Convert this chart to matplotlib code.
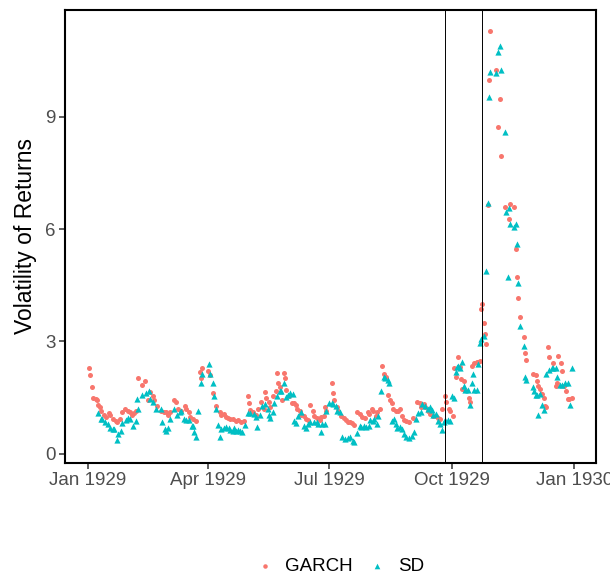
import numpy as np
import pandas as pd
import matplotlib
matplotlib.use("Agg")
import matplotlib.pyplot as plt
import matplotlib.dates as mdates

plt.rcParams['font.family'] = ['Liberation Sans', 'DejaVu Sans']

# day offsets from 1929-01-01 and volatility
garch_day = [1, 2, 3, 4, 6, 7, 8, 9, 10, 12, 14, 16, 17, 19, 21, 22, 24, 26, 28, 30,
             32, 33, 35, 36, 38, 41, 43, 45, 47, 49, 50, 52, 55, 57, 59, 60, 62, 65, 66, 68,
             70, 73, 74, 76, 77, 79, 81, 84, 85, 86, 90, 92, 94, 96, 99, 100, 102, 104, 105, 107,
             109, 111, 113, 115, 117, 120, 121, 122, 124, 126, 128, 130, 132, 133, 134, 136, 137, 139, 141, 142,
             143, 144, 146, 147, 148, 149, 151, 153, 155, 156, 157, 159, 160, 162, 164, 165, 167, 169, 170, 172,
             174, 175, 177, 178, 179, 183, 184, 185, 187, 188, 190, 192, 194, 195, 197, 198, 200, 202, 204, 206,
             208, 210, 211, 213, 214, 216, 217, 219, 221, 222, 224, 225, 227, 228, 229, 231, 233, 234, 236, 237,
             239, 241, 244, 247, 249, 250, 252, 253, 255, 257, 259, 261, 263, 264, 266, 268, 269, 271, 272, 274,
             275, 276, 278, 279, 280, 281, 282, 283, 286, 287, 288, 290, 292, 293, 294, 295, 296, 297, 298, 299,
             300, 301, 302, 306, 308, 309, 310, 313, 316, 317, 320, 321, 322, 323, 324, 327, 328, 329, 334, 336,
             337, 338, 339, 340, 341, 342, 343, 344, 345, 346, 349, 351, 352, 353, 355, 356, 357, 359, 360, 361,
             363]
garch_vol = [2.28, 2.09, 1.77, 1.50, 1.46, 1.42, 1.31, 1.25, 1.15, 1.04, 0.99, 1.08, 1.04, 0.93, 0.88, 0.84, 0.93, 1.10, 1.19, 1.15,
             1.10, 1.02, 1.08, 1.15, 2.02, 1.83, 1.95, 1.42, 1.64, 1.55, 1.42, 1.28, 1.15, 1.10, 1.10, 1.04, 1.10, 1.43, 1.38, 1.19,
             1.15, 1.28, 1.19, 1.10, 0.97, 0.93, 0.88, 2.17, 2.02, 2.30, 2.22, 2.11, 1.61, 1.28, 1.10, 1.03, 1.06, 0.99, 0.95, 0.93,
             0.93, 0.86, 0.90, 0.84, 0.86, 1.55, 1.34, 1.17, 1.10, 1.04, 1.19, 1.37, 1.19, 1.66, 1.49, 1.37, 1.24, 1.55, 1.68, 2.15,
             1.90, 1.77, 1.43, 2.15, 2.02, 1.70, 1.55, 1.34, 1.34, 1.31, 1.19, 1.13, 1.04, 1.01, 0.93, 0.90, 1.31, 1.15, 1.01, 0.95,
             0.90, 0.97, 1.01, 1.25, 1.13, 1.89, 1.61, 1.43, 1.25, 1.13, 1.01, 0.95, 0.90, 0.84, 0.84, 0.81, 0.77, 1.10, 1.06, 0.99,
             0.95, 1.10, 1.06, 1.19, 1.13, 1.01, 1.10, 1.19, 2.35, 2.14, 2.04, 1.58, 1.42, 1.34, 1.19, 1.15, 1.13, 1.19, 1.01, 0.90,
             0.88, 0.84, 0.95, 1.37, 1.34, 1.24, 1.33, 1.24, 1.15, 1.06, 1.01, 1.01, 0.95, 0.93, 1.19, 1.55, 1.37, 1.19, 1.13, 1.01,
             2.29, 2.04, 2.57, 2.32, 1.99, 1.73, 1.95, 1.70, 1.50, 1.37, 2.35, 2.41, 2.44, 2.46, 2.48, 3.86, 4.01, 3.50, 3.20, 2.93,
             6.64, 10.00, 11.31, 10.25, 8.73, 9.49, 7.96, 6.60, 6.28, 6.67, 6.60, 5.48, 4.73, 4.17, 3.64, 3.11, 2.68, 2.50, 2.14, 2.11,
             1.95, 1.82, 1.73, 1.59, 1.59, 1.50, 1.28, 1.25, 2.86, 2.57, 2.41, 1.82, 1.88, 2.62, 2.41, 2.22, 1.82, 1.68, 1.46, 1.46,
             1.50]

sd_day = [8, 10, 11, 13, 15, 17, 19, 20, 22, 23, 25, 26, 29, 30, 32, 34, 36, 37, 38, 41,
          44, 46, 47, 49, 51, 55, 56, 58, 59, 60, 62, 65, 67, 69, 70, 72, 74, 76, 78, 79,
          80, 81, 83, 85, 86, 91, 92, 94, 95, 96, 98, 99, 100, 102, 104, 106, 107, 109, 110, 111,
          113, 114, 116, 118, 120, 122, 125, 126, 127, 129, 131, 133, 135, 136, 137, 139, 140, 142, 144, 145,
          147, 149, 150, 152, 154, 155, 156, 158, 160, 162, 164, 165, 167, 170, 172, 173, 175, 176, 178, 179,
          181, 183, 184, 186, 187, 189, 191, 193, 195, 197, 199, 200, 202, 204, 205, 207, 209, 211, 212, 214,
          215, 217, 218, 220, 222, 223, 225, 226, 228, 230, 231, 232, 234, 236, 237, 239, 241, 243, 245, 246,
          248, 250, 251, 253, 255, 257, 258, 259, 261, 263, 264, 266, 267, 268, 270, 272, 273, 275, 276, 277,
          278, 279, 281, 282, 283, 285, 287, 288, 289, 290, 292, 293, 294, 295, 297, 299, 300, 301, 302, 306,
          308, 309, 310, 313, 314, 315, 316, 317, 320, 321, 322, 323, 324, 327, 328, 329, 334, 335, 336, 337,
          338, 339, 341, 342, 344, 346, 348, 349, 351, 352, 354, 356, 358, 360, 362, 363]
sd_vol = [1.08, 0.93, 0.93, 0.84, 0.80, 0.69, 0.66, 0.66, 0.37, 0.53, 0.61, 0.82, 0.90, 0.95, 0.93, 0.75, 0.88, 1.46, 1.19, 1.58,
          1.61, 1.68, 1.46, 1.37, 1.19, 1.19, 0.84, 0.66, 0.61, 0.69, 0.92, 1.19, 1.04, 1.10, 1.13, 0.93, 0.90, 0.90, 0.75, 0.75,
          0.57, 0.44, 1.15, 1.90, 2.14, 2.39, 2.14, 1.89, 1.55, 1.19, 0.77, 0.45, 0.66, 0.69, 0.72, 0.69, 0.63, 0.60, 0.69, 0.61,
          0.63, 0.60, 0.57, 0.77, 1.08, 1.08, 1.06, 0.97, 0.72, 1.04, 1.28, 1.33, 1.19, 1.04, 0.95, 1.10, 1.34, 1.55, 1.68, 1.68,
          1.90, 1.52, 1.58, 1.61, 1.59, 0.86, 0.81, 1.01, 1.10, 0.75, 0.69, 0.79, 0.84, 0.84, 0.84, 0.79, 0.57, 0.79, 0.79, 1.15,
          1.34, 1.34, 1.33, 1.28, 1.15, 1.10, 0.44, 0.39, 0.42, 0.44, 0.35, 0.30, 0.54, 0.75, 0.72, 0.75, 0.72, 0.75, 0.90, 0.86,
          0.93, 0.79, 1.01, 1.68, 2.04, 2.02, 1.97, 1.90, 0.88, 0.93, 0.79, 0.69, 0.72, 0.66, 0.53, 0.44, 0.42, 0.48, 0.57, 0.93,
          1.08, 1.10, 1.33, 1.28, 1.19, 1.24, 1.17, 1.04, 1.06, 0.88, 0.79, 0.63, 0.84, 0.90, 0.90, 0.88, 1.55, 1.49, 2.17, 2.32,
          2.35, 2.30, 2.46, 1.82, 1.70, 1.70, 1.31, 1.90, 2.13, 1.70, 1.70, 2.39, 2.97, 3.06, 3.15, 4.87, 6.71, 9.53, 10.21, 10.18,
          10.73, 10.91, 10.25, 8.60, 6.46, 4.73, 6.56, 6.15, 6.06, 6.13, 5.60, 4.57, 3.42, 2.88, 2.06, 1.97, 1.79, 1.68, 1.58, 1.58,
          1.04, 1.59, 1.31, 1.17, 2.14, 2.23, 2.29, 2.29, 2.29, 2.06, 1.84, 1.84, 1.90, 1.88, 1.31, 2.29]

event_dates = ['1929-09-26', '1929-10-24']
tick_dates = ['1929-01-01', '1929-04-01', '1929-07-01', '1929-10-01', '1930-01-01']

start = pd.Timestamp('1929-01-01')
garch_dates = start + pd.to_timedelta(garch_day, unit='D')
sd_dates = start + pd.to_timedelta(sd_day, unit='D')

fig = plt.figure(figsize=(6.1, 5.78), dpi=100)
ax = fig.add_axes([0.1066, 0.199, 0.870, 0.7837])

ax.scatter(garch_dates, garch_vol, s=13, marker='o', color='#F8766D', linewidths=0, label='GARCH', zorder=2)
ax.scatter(sd_dates, sd_vol, s=20, marker='^', color='#00BFC4', linewidths=0, label='SD', zorder=3)

for d in event_dates:
    ax.axvline(pd.Timestamp(d), color='black', linewidth=0.7, zorder=4)

ax.margins(x=0.05, y=0.05)
ax.set_yticks([0, 3, 6, 9])
ax.set_xticks([pd.Timestamp(t) for t in tick_dates])
ax.xaxis.set_major_formatter(mdates.DateFormatter('%b %Y'))

ax.set_ylabel('Volatility of Returns', fontsize=16.5, color='black', labelpad=6)
ax.tick_params(axis='both', labelsize=13.5, labelcolor='#4D4D4D', color='#333333',
               length=4, width=1.1, pad=2.5)
for sp in ax.spines.values():
    sp.set_linewidth(1.5)
    sp.set_color('black')

# legend sits below the panel, centred a bit right of the middle like ggplot's
leg = fig.legend(loc='center', bbox_to_anchor=(0.557, 0.02), ncol=2, frameon=False,
                 fontsize=13.5, handlelength=1.0, handletextpad=0.6, columnspacing=0.8,
                 markerscale=0.9, borderpad=0.2)

fig.savefig('out.png', dpi=100)
